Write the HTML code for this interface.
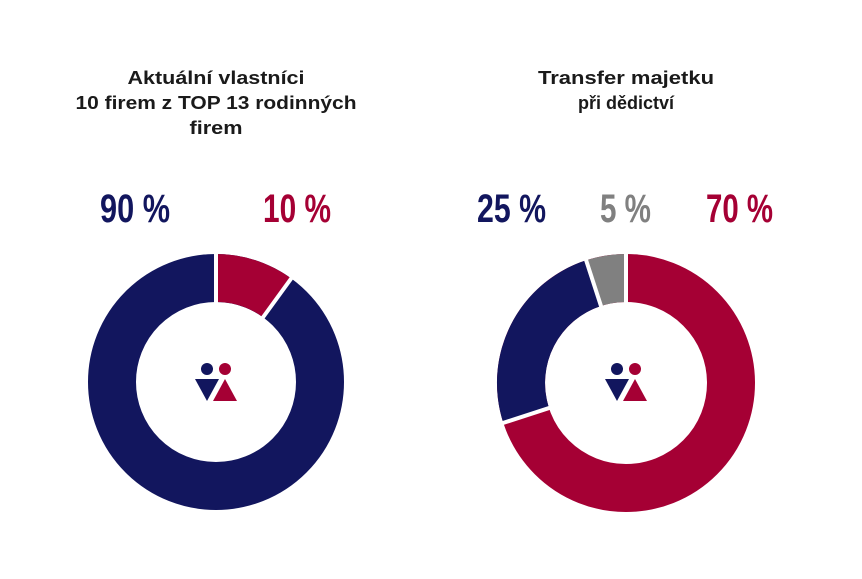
<!DOCTYPE html>
<html><head><meta charset="utf-8"><style>
body{margin:0;background:#fff;}
svg{display:block}
</style></head><body>
<svg width="862" height="579" viewBox="0 0 862 579" xmlns="http://www.w3.org/2000/svg">
<g font-family="Liberation Sans, sans-serif" font-weight="bold" font-size="18" fill="#1a1a1a" text-anchor="middle">
<text x="216" y="84" textLength="177" lengthAdjust="spacingAndGlyphs">Aktuální vlastníci</text>
<text x="216" y="109" textLength="281" lengthAdjust="spacingAndGlyphs">10 firem z TOP 13 rodinných</text>
<text x="216" y="134" textLength="53" lengthAdjust="spacingAndGlyphs">firem</text>
<text x="626" y="84" textLength="176" lengthAdjust="spacingAndGlyphs">Transfer majetku</text>
<text x="626" y="109">při dědictví</text>
</g>
<g font-family="Liberation Sans Narrow, Liberation Sans, sans-serif" font-weight="bold" font-size="40">
<text x="100" y="222" fill="#12165e" textLength="70" lengthAdjust="spacingAndGlyphs">90 %</text>
<text x="263" y="222" fill="#a50034" textLength="68" lengthAdjust="spacingAndGlyphs">10 %</text>
<text x="477" y="222" fill="#12165e" textLength="69" lengthAdjust="spacingAndGlyphs">25 %</text>
<text x="600" y="222" fill="#808080" textLength="51" lengthAdjust="spacingAndGlyphs">5 %</text>
<text x="706" y="222" fill="#a50034" textLength="67" lengthAdjust="spacingAndGlyphs">70 %</text>
</g>
<g transform="translate(216,382)">
<circle r="104" fill="none" stroke="#12165e" stroke-width="48"/>
<path d="M0,-128 A128,128 0 0 1 75.24,-103.55 L47.02,-64.72 A80,80 0 0 0 0,-80 Z" fill="#a50034"/>
<line x1="0" y1="-76" x2="0" y2="-132" stroke="#fff" stroke-width="4"/>
<line x1="44.7" y1="-61.5" x2="77.6" y2="-106.8" stroke="#fff" stroke-width="4"/>
<circle cx="-9" cy="-13" r="6" fill="#12165e"/>
<circle cx="9" cy="-13" r="6" fill="#a50034"/>
<polygon points="-21,-3 3,-3 -9,19" fill="#12165e"/>
<polygon points="9,-3 21,19 -3,19" fill="#a50034"/>
</g>
<g transform="translate(626,383)">
<circle r="105" fill="none" stroke="#a50034" stroke-width="48"/>
<path d="M-122.7,39.9 A129,129 0 0 1 -39.9,-122.7 L-25,-77 A81,81 0 0 0 -77,25 Z" fill="#12165e"/>
<path d="M-39.9,-122.7 A129,129 0 0 1 0,-129 L0,-81 A81,81 0 0 0 -25,-77 Z" fill="#808080"/>
<line x1="0" y1="-77" x2="0" y2="-133" stroke="#fff" stroke-width="4"/>
<line x1="-23.8" y1="-73.2" x2="-41.1" y2="-126.5" stroke="#fff" stroke-width="4"/>
<line x1="-73.2" y1="23.8" x2="-126.5" y2="41.1" stroke="#fff" stroke-width="4"/>
<circle cx="-9" cy="-14" r="6" fill="#12165e"/>
<circle cx="9" cy="-14" r="6" fill="#a50034"/>
<polygon points="-21,-4 3,-4 -9,18" fill="#12165e"/>
<polygon points="9,-4 21,18 -3,18" fill="#a50034"/>
</g>
</svg>
</body></html>
